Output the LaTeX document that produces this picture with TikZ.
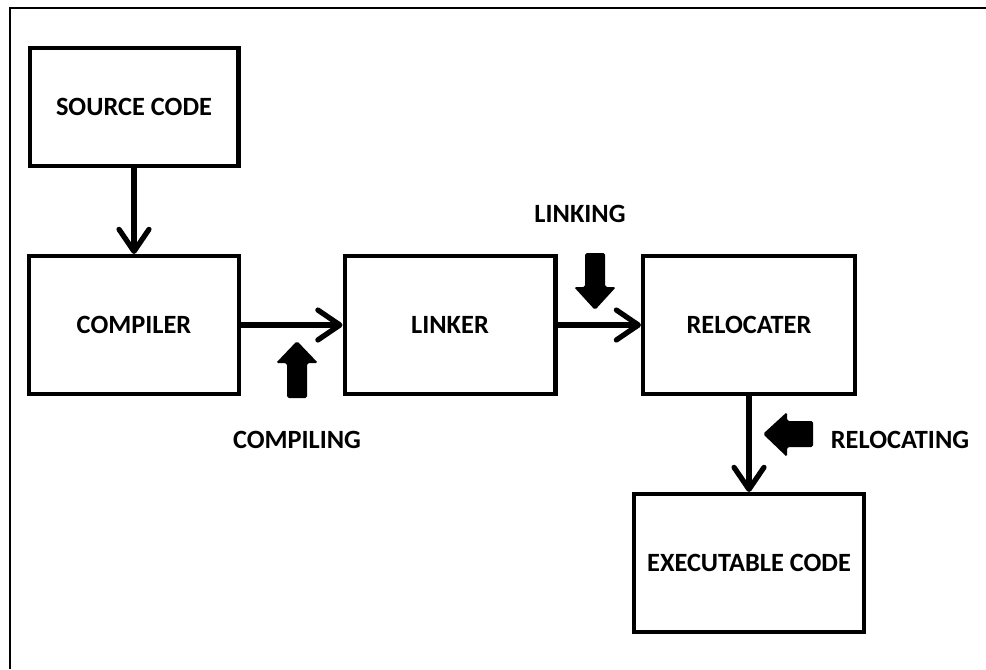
\documentclass[tikz,border=0pt]{standalone}
\usepackage{fontspec}
\setmainfont{Carlito}
\usetikzlibrary{arrows.meta}
\begin{document}
\begin{tikzpicture}[x=0.02cm, y=-0.02cm,
    box/.style={rectangle, draw, line width=2.3pt, minimum height=2.76cm, inner sep=3pt,
      font=\fontsize{15}{18}\selectfont\bfseries},
    lbl/.style={font=\fontsize{15}{18}\selectfont\bfseries, inner sep=0pt},
    conn/.style={line width=3pt, -{Straight Barb[length=12.5pt, width=17pt, line cap=round, line join=round]}},
    bigarrow/.style={fill=black, rounded corners=1pt}]
  \useasboundingbox (0,0) rectangle (986,669);
  % frame
  \draw[line width=1.4pt] (10,669) -- (10,8) -- (986,8);

  % stages
  \node[box, minimum width=4.18cm, minimum height=2.36cm] (src) at (134,107) {SOURCE CODE};
  \node[box, minimum width=4.2cm] (comp) at (134,325) {COMPILER};
  \node[box, minimum width=4.22cm] (link) at (450,325) {LINKER};
  \node[box, minimum width=4.24cm] (reloc) at (749,325) {RELOCATER};
  \node[box, minimum width=4.6cm] (exe) at (749,563) {EXECUTABLE CODE};

  % steps
  \node[lbl] (compiling) at (297,440) {COMPILING};
  \node[lbl] (linking) at (580,214) {LINKING};
  \node[lbl] (relocating) at (900,440) {RELOCATING};

  \draw[conn] (src) -- (comp);
  \draw[conn] (comp) -- (link);
  \draw[conn] (link) -- (reloc);
  \draw[conn] (reloc) -- (exe);

  % block arrows
  \fill[bigarrow] (287,398) -- (287,363) -- (276,363) -- (297,341) -- (318,363) -- (307,363) -- (307,398) -- cycle;
  \fill[bigarrow] (585,253) -- (585,287) -- (574,287) -- (595,310) -- (616,287) -- (605,287) -- (605,253) -- cycle;
  \fill[bigarrow] (813,421) -- (787,421) -- (787,412) -- (763,434) -- (787,457) -- (787,447) -- (813,447) -- cycle;
\end{tikzpicture}
\end{document}
